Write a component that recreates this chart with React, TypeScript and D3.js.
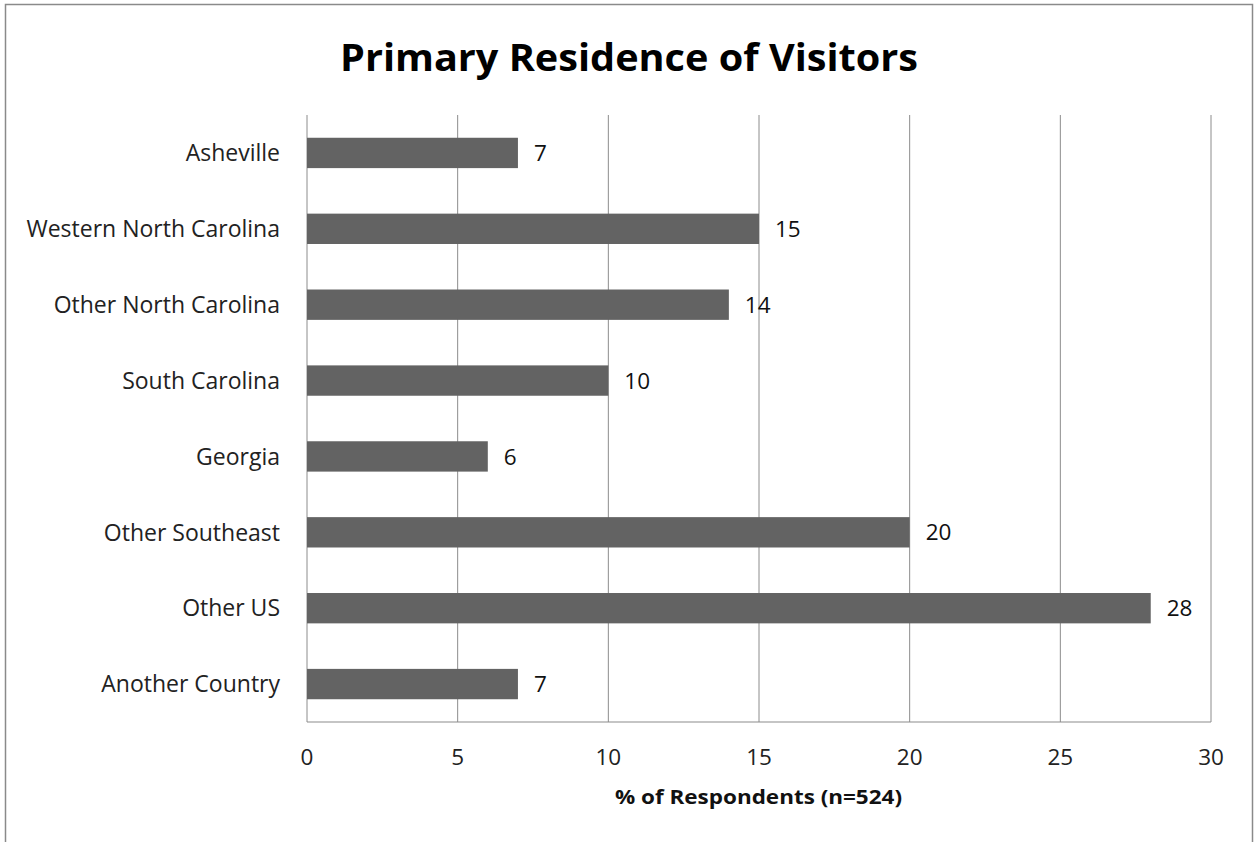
import React from "react";
import * as d3 from "d3";

const categories = [
  "Asheville",
  "Western North Carolina",
  "Other North Carolina",
  "South Carolina",
  "Georgia",
  "Other Southeast",
  "Other US",
  "Another Country",
];
const values = [7, 15, 14, 10, 6, 20, 28, 7];
const xTicks = [0, 5, 10, 15, 20, 25, 30];
const title = "Primary Residence of Visitors";
const xTitle = "% of Respondents (n=524)";

const W = 1254;
const H = 842;
const plot = { left: 307, right: 1211, top: 115, bottom: 722 };
const FONT = "'Open Sans', 'DejaVu Sans', sans-serif";

export default function App() {
  const x = d3.scaleLinear().domain([0, 30]).range([plot.left, plot.right]);
  const y = d3
    .scaleBand<string>()
    .domain(categories)
    .range([plot.top, plot.bottom])
    .paddingInner(0.6)
    .paddingOuter(0.3);
  const grid = "#8c8c8c";
  return (
    <svg
      width={W}
      height={H}
      style={{ position: "absolute", left: 0, top: 0, background: "#fff" }}
      fontFamily={FONT}
    >
      <rect x={0} y={0} width={W} height={H} fill="#fff" />
      <rect x={5.5} y={4.5} width={1247} height={860} fill="none" stroke="#8a8a8a" strokeWidth={1.5} />
      <text
        x={629}
        y={71}
        textAnchor="middle"
        fontSize={38}
        fontWeight="bold"
        textLength={578}
        lengthAdjust="spacingAndGlyphs"
        fill="#000"
      >
        {title}
      </text>
      {xTicks.map((t) => (
        <line key={"g" + t} x1={x(t)} x2={x(t)} y1={plot.top} y2={plot.bottom} stroke={grid} strokeWidth={1} />
      ))}
      <line x1={plot.left} x2={plot.right} y1={plot.bottom} y2={plot.bottom} stroke={grid} strokeWidth={1.2} />
      {categories.map((c, i) => (
        <g key={c}>
          <rect
            x={x(0)}
            y={y(c)!}
            width={x(values[i]) - x(0)}
            height={y.bandwidth()}
            fill="#636363"
          />
          <text
            x={x(values[i]) + 16}
            y={y(c)! + y.bandwidth() / 2}
            dy="0.36em"
            fontSize={22.5}
            fill="#111"
          >
            {values[i]}
          </text>
          <text
            x={280}
            y={y(c)! + y.bandwidth() / 2}
            dy="0.36em"
            textAnchor="end"
            fontSize={23}
            fill="#222"
          >
            {c}
          </text>
        </g>
      ))}
      {xTicks.map((t) => (
        <text key={"t" + t} x={x(t)} y={757} dy="0.36em" textAnchor="middle" fontSize={22.5} fill="#222">
          {t}
        </text>
      ))}
      <text
        x={758.5}
        y={804}
        textAnchor="middle"
        fontSize={19}
        fontWeight="bold"
        textLength={287}
        lengthAdjust="spacingAndGlyphs"
        fill="#111"
      >
        {xTitle}
      </text>
    </svg>
  );
}
